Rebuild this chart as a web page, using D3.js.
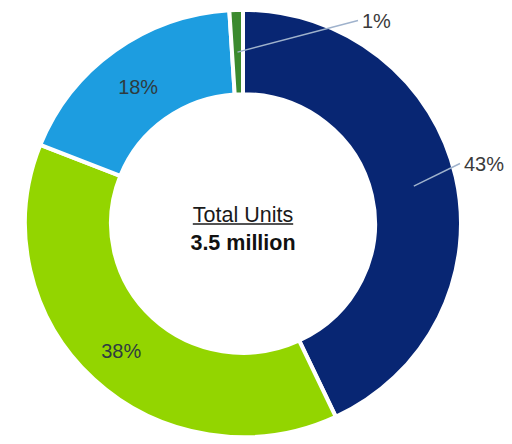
<!DOCTYPE html>
<html>
<head>
<meta charset="utf-8">
<script src="https://cdn.jsdelivr.net/npm/d3@7/dist/d3.min.js"></script>
<style>
  html, body { margin: 0; padding: 0; background: #fff; }
  svg { display: block; }
  text { font-family: "Liberation Sans", Arial, sans-serif; }
</style>
</head>
<body>
<svg id="chart" width="512" height="444"></svg>
<script>
// Unit share by segment (percent), clockwise from 12 o'clock
const segments = ["Segment A", "Segment B", "Segment C", "Segment D"];
const shares = [43, 38, 18, 1];
const shareLabels = ["43%", "38%", "18%", "1%"];
const colors = ["#082673", "#93d500", "#1d9de0", "#3c8a2e"];
const totalTitle = "Total Units";
const totalValue = "3.5 million";

const cx = 243, cy = 223.5;
const outerR = 218, innerR = 132;
const squash = 0.98;   // ring is drawn slightly flattened vertically

const svg = d3.select("#chart");
const g = svg.append("g").attr("transform", `translate(${cx},${cy})`);
const ring = g.append("g").attr("transform", `scale(1,${squash})`);

const pie = d3.pie().sort(null).value(d => d.value);
const arcs = pie(segments.map((s, i) => ({ name: s, value: shares[i], label: shareLabels[i], color: colors[i] })));

const arc = d3.arc().innerRadius(innerR).outerRadius(outerR);

ring.selectAll("path.slice")
  .data(arcs)
  .join("path")
  .attr("class", "slice")
  .attr("d", arc)
  .attr("fill", d => d.data.color)
  .attr("stroke", "#fff")
  .attr("stroke-width", 4)
  .attr("stroke-linejoin", "miter");

// Labels inside the ring for the wide slices, leader lines for the others
const outside = { "43%": [217, -60], "1%": [115, -203] };
const labelColor = "#3a3a3a";

arcs.forEach(d => {
  const c = arc.centroid(d);
  const x = c[0], y = c[1] * squash;
  const off = outside[d.data.label];
  if (off) {
    g.append("line")
      .attr("x1", x).attr("y1", y)
      .attr("x2", off[0]).attr("y2", off[1])
      .attr("stroke", "#9fb2cc")
      .attr("stroke-width", 1.4);
    g.append("text")
      .attr("x", off[0] + 4)
      .attr("y", off[1] + 7)
      .attr("font-size", 20)
      .attr("fill", labelColor)
      .text(d.data.label);
  } else {
    g.append("text")
      .attr("x", x - 2)
      .attr("y", y + 9)
      .attr("text-anchor", "middle")
      .attr("font-size", 20)
      .attr("fill", "#2e3b40")
      .text(d.data.label);
  }
});

// Centre caption
const title = g.append("text")
  .attr("x", 0).attr("y", -2)
  .attr("text-anchor", "middle")
  .attr("font-size", 21.5)
  .attr("fill", "#1a1a1a")
  .text(totalTitle);
const tb = title.node().getBBox();
g.append("line")
  .attr("x1", tb.x).attr("x2", tb.x + tb.width)
  .attr("y1", 0.5).attr("y2", 0.5)
  .attr("stroke", "#1a1a1a").attr("stroke-width", 1.5);

g.append("text")
  .attr("x", 0).attr("y", 26)
  .attr("text-anchor", "middle")
  .attr("font-size", 21.5)
  .attr("font-weight", "bold")
  .attr("fill", "#111")
  .text(totalValue);
</script>
</body>
</html>
